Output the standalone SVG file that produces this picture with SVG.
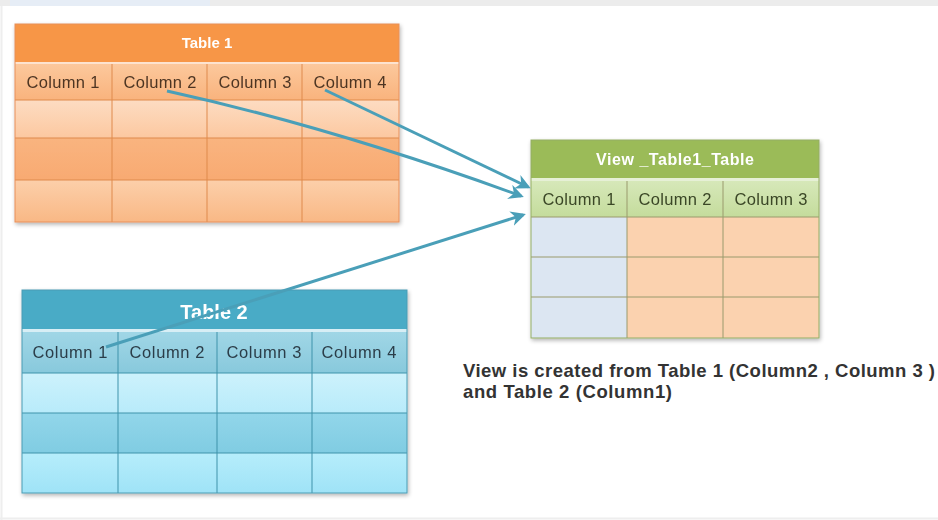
<svg xmlns="http://www.w3.org/2000/svg" width="938" height="520" viewBox="0 0 938 520">
<defs>
<linearGradient id="o-col" x1="0" y1="0" x2="0" y2="1"><stop offset="0" stop-color="#fcc89c"/><stop offset="1" stop-color="#f9b37d"/></linearGradient>
<linearGradient id="o-r1" x1="0" y1="0" x2="0" y2="1"><stop offset="0" stop-color="#fddcc2"/><stop offset="1" stop-color="#fcc8a0"/></linearGradient>
<linearGradient id="o-r2" x1="0" y1="0" x2="0" y2="1"><stop offset="0" stop-color="#f9b47f"/><stop offset="1" stop-color="#f8aa72"/></linearGradient>
<linearGradient id="o-r3" x1="0" y1="0" x2="0" y2="1"><stop offset="0" stop-color="#fccfaa"/><stop offset="1" stop-color="#f9b885"/></linearGradient>
<linearGradient id="b-col" x1="0" y1="0" x2="0" y2="1"><stop offset="0" stop-color="#a0d6e6"/><stop offset="1" stop-color="#88c9dc"/></linearGradient>
<linearGradient id="b-r1" x1="0" y1="0" x2="0" y2="1"><stop offset="0" stop-color="#cdf2fc"/><stop offset="1" stop-color="#b8ebfa"/></linearGradient>
<linearGradient id="b-r2" x1="0" y1="0" x2="0" y2="1"><stop offset="0" stop-color="#92d6ea"/><stop offset="1" stop-color="#80cce2"/></linearGradient>
<linearGradient id="b-r3" x1="0" y1="0" x2="0" y2="1"><stop offset="0" stop-color="#b6edfb"/><stop offset="1" stop-color="#9fe3f7"/></linearGradient>
<linearGradient id="g-col" x1="0" y1="0" x2="0" y2="1"><stop offset="0" stop-color="#d6e8b9"/><stop offset="1" stop-color="#c4dc9c"/></linearGradient>
<filter id="sh" x="-5%" y="-5%" width="110%" height="115%"><feGaussianBlur in="SourceAlpha" stdDeviation="2"/><feOffset dx="1" dy="2"/><feComponentTransfer><feFuncA type="linear" slope="0.3"/></feComponentTransfer><feMerge><feMergeNode/><feMergeNode in="SourceGraphic"/></feMerge></filter>
<marker id="ah" viewBox="0 0 10 10" refX="8" refY="5" markerWidth="5" markerHeight="5" orient="auto" markerUnits="strokeWidth"><path d="M0,0 L10,5 L0,10 L3,5 z" fill="#4a9fb8"/></marker>
</defs>
<style>
.hdr{font-family:"Liberation Sans",Arial,sans-serif;font-weight:bold;fill:#ffffff;text-anchor:middle}
.col{font-family:"Liberation Sans",Arial,sans-serif;font-size:16.5px;text-anchor:middle}
.t1 .col{fill:#4e3624}
.t2 .col{fill:#2c3d48}
.tv .col{fill:#3a4626}
.t1 line{stroke:#df8a4c;stroke-width:1}
.t2 line{stroke:#3f93ab;stroke-width:1}
.tv line{stroke:#9a9a6c;stroke-width:1}
.conn path{fill:none;stroke:#4a9fb8;stroke-width:3;marker-end:url(#ah)}
.desc{font-family:"Liberation Sans",Arial,sans-serif;font-weight:bold;font-size:18.5px;fill:#333333}
</style>
<rect x="0" y="0" width="938" height="520" fill="#ffffff"/>
<rect x="0" y="0" width="938" height="6" fill="#ececec"/>
<rect x="10" y="0" width="200" height="6" fill="#e6edf6"/>
<line x1="1.5" y1="6" x2="1.5" y2="520" stroke="#eeeeee" stroke-width="2"/>
<line x1="0" y1="518.5" x2="938" y2="518.5" stroke="#eeeeee" stroke-width="2"/>

<g id="table1" class="t1" filter="url(#sh)">
<rect x="15" y="24" width="384" height="38" fill="#f79646"/>
<rect x="15" y="62" width="384" height="2" fill="#fde3cf"/>
<rect x="15" y="64" width="384" height="36" fill="url(#o-col)"/>
<rect x="15" y="100" width="384" height="38" fill="url(#o-r1)"/>
<rect x="15" y="138" width="384" height="42" fill="url(#o-r2)"/>
<rect x="15" y="180" width="384" height="42" fill="url(#o-r3)"/>
<line x1="15" y1="100" x2="399" y2="100"/>
<line x1="15" y1="138" x2="399" y2="138"/>
<line x1="15" y1="180" x2="399" y2="180"/>
<line x1="112" y1="64" x2="112" y2="222"/>
<line x1="207" y1="64" x2="207" y2="222"/>
<line x1="302" y1="64" x2="302" y2="222"/>
<rect x="15" y="24" width="384" height="198" fill="none" stroke="#e8905a" stroke-width="1"/>
<text class="hdr" x="207" y="48" font-size="15">Table 1</text>
<text class="col" x="63" y="88" textLength="73">Column 1</text>
<text class="col" x="160" y="88" textLength="73">Column 2</text>
<text class="col" x="255" y="88" textLength="73">Column 3</text>
<text class="col" x="350" y="88" textLength="73">Column 4</text>
</g>

<g id="table2" class="t2" filter="url(#sh)">
<rect x="22" y="290" width="385" height="39" fill="#4aabc6"/>
<rect x="22" y="329" width="385" height="3" fill="#d7eef5"/>
<rect x="22" y="332" width="385" height="41" fill="url(#b-col)"/>
<rect x="22" y="373" width="385" height="40" fill="url(#b-r1)"/>
<rect x="22" y="413" width="385" height="40" fill="url(#b-r2)"/>
<rect x="22" y="453" width="385" height="40" fill="url(#b-r3)"/>
<line x1="22" y1="373" x2="407" y2="373"/>
<line x1="22" y1="413" x2="407" y2="413"/>
<line x1="22" y1="453" x2="407" y2="453"/>
<line x1="118" y1="332" x2="118" y2="493"/>
<line x1="217" y1="332" x2="217" y2="493"/>
<line x1="312" y1="332" x2="312" y2="493"/>
<rect x="22" y="290" width="385" height="203" fill="none" stroke="#4a9cb4" stroke-width="1"/>
<text class="hdr" x="214" y="319" font-size="20">Table 2</text>
<text class="col" x="70" y="358" textLength="75">Column 1</text>
<text class="col" x="167" y="358" textLength="75">Column 2</text>
<text class="col" x="264" y="358" textLength="75">Column 3</text>
<text class="col" x="359" y="358" textLength="75">Column 4</text>
</g>

<g id="view" class="tv" filter="url(#sh)">
<rect x="531" y="140" width="288" height="38" fill="#9bbb59"/>
<rect x="531" y="178" width="288" height="3" fill="#e6f0d6"/>
<rect x="531" y="181" width="288" height="36" fill="url(#g-col)"/>
<rect x="531" y="217" width="96" height="121" fill="#dce6f2"/>
<rect x="627" y="217" width="192" height="121" fill="#fbd2af"/>
<line x1="531" y1="217" x2="819" y2="217"/>
<line x1="531" y1="257" x2="819" y2="257"/>
<line x1="531" y1="297" x2="819" y2="297"/>
<line x1="627" y1="181" x2="627" y2="338"/>
<line x1="723" y1="181" x2="723" y2="338"/>
<rect x="531" y="140" width="288" height="198" fill="none" stroke="#94ad64" stroke-width="1"/>
<text class="hdr" x="675" y="165" font-size="16" textLength="158">View _Table1_Table</text>
<text class="col" x="579" y="205" textLength="73">Column 1</text>
<text class="col" x="675" y="205" textLength="73">Column 2</text>
<text class="col" x="771" y="205" textLength="73">Column 3</text>
</g>

<g id="connectors" class="conn">
<path d="M167,91 Q335,128 521,196"/>
<path d="M325,90 L528,187"/>
<path d="M106,347 L523,215"/>
</g>

<g id="description">
<text class="desc" x="463" y="377" textLength="472">View is created  from Table 1 (Column2 , Column 3 )</text>
<text class="desc" x="463" y="398" textLength="209">and Table 2 (Column1)</text>
</g>
</svg>
